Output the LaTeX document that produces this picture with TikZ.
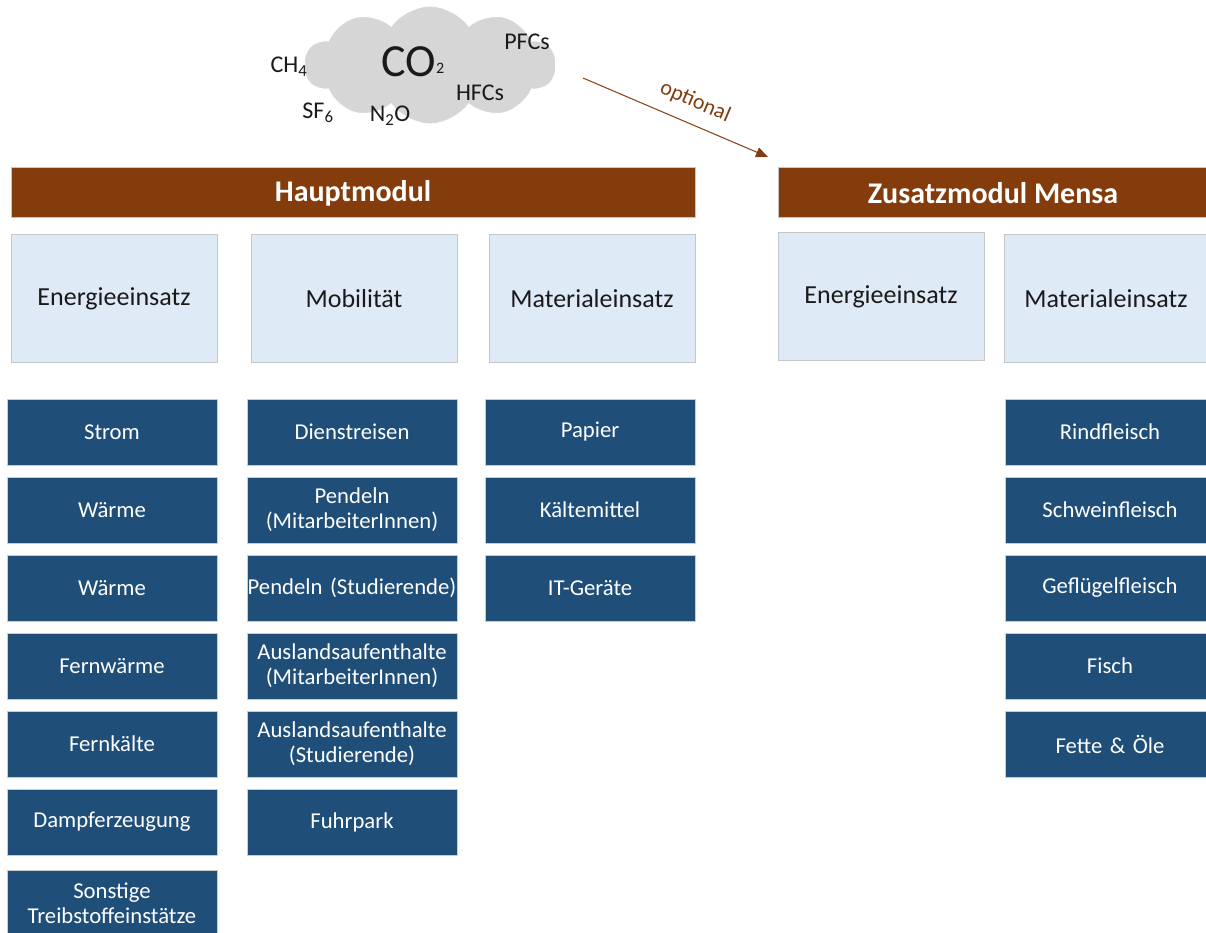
\documentclass[tikz,border=0pt]{standalone}
\usepackage{fontspec}
\setmainfont{Carlito}
\usetikzlibrary{shapes.symbols,arrows.meta}
\definecolor{brownbar}{HTML}{843C0C}
\definecolor{lightbox}{HTML}{DEEBF7}
\definecolor{darkbox}{HTML}{1F4E79}
\definecolor{cloudgray}{HTML}{D6D6D6}
\definecolor{txtdark}{HTML}{1A1A1A}
\tikzset{
  headbar/.style={draw=gray!45, line width=1pt, fill=brownbar, text=white, anchor=north west,
    inner sep=0pt, outer sep=0pt, minimum height=50pt,
    font=\fontsize{30}{34}\selectfont\bfseries},
  catbox/.style={draw=gray!45, line width=1pt, fill=lightbox, text=txtdark, anchor=north west,
    inner sep=0pt, outer sep=0pt, minimum width=206pt, minimum height=127pt,
    font=\fontsize{26}{30}\selectfont},
  itembox/.style={draw=gray!40, line width=1pt, fill=darkbox, text=white, anchor=north west,
    inner sep=0pt, outer sep=0pt, minimum width=210pt, minimum height=66pt,
    text width=210pt, align=center, font=\fontsize{22.7}{25}\selectfont},
  gas/.style={text=txtdark, inner sep=0pt, font=\fontsize{24}{27}\selectfont},
  optarrow/.style={draw=brownbar, line width=1pt, -{Triangle[length=12pt,width=10pt]}},
}
\begin{document}
\begin{tikzpicture}[x=1pt,y=-1pt]
\useasboundingbox (0,0) rectangle (1206,933);
% cloud
\node[cloud, cloud puffs=10, cloud puff arc=110, aspect=2.2, fill=cloudgray, draw=white,
  line width=1pt, minimum width=252pt, minimum height=118pt, inner sep=0pt] (cloud) at (430,65) {};
\node[gas] (co2) at (413,62) {\fontsize{46}{50}\selectfont CO\raisebox{3pt}{\fontsize{16}{16}\selectfont 2}};
\node[gas] (ch4) at (289,67) {CH\textsubscript{4}};
\node[gas] (pfc) at (527,42) {PFCs};
\node[gas] (hfc) at (480,93) {HFCs};
\node[gas] (sf6) at (318,113) {SF\textsubscript{6}};
\node[gas] (n2o) at (390,116) {N\textsubscript{2}O};
% arrow
\coordinate (arrS) at (583,78);
\coordinate (arrE) at (768,157);
\draw[optarrow] (arrS) -- node[sloped, above=12pt, pos=0.56, text=brownbar, inner sep=0pt, font=\fontsize{22}{24}\selectfont] (optlbl) {optional} (arrE);
% header bars
\node[headbar, minimum width=684pt] (haupt) at (11,168) {Hauptmodul};
\node[headbar, minimum width=430pt] (zusatz) at (778,168) {Zusatzmodul Mensa};
% category boxes
\node[catbox] (c1) at (11,235) {Energieeinsatz};
\node[catbox] (c2) at (251,235) {Mobilität};
\node[catbox] (c3) at (489,235) {Materialeinsatz};
\node[catbox] (c4) at (778,233) {Energieeinsatz};
\node[catbox, minimum width=204pt] (c5) at (1004,235) {Materialeinsatz};
% column 1
\node[itembox] (a1) at (7,399) {Strom};
\node[itembox] (a2) at (7,477) {Wärme};
\node[itembox] (a3) at (7,555) {Wärme};
\node[itembox] (a4) at (7,633) {Fernwärme};
\node[itembox] (a5) at (7,711) {Fernkälte};
\node[itembox] (a6) at (7,789) {Dampferzeugung};
\node[itembox] (a7) at (7,870) {Sonstige\\Treibstoffeinstätze};
% column 2
\node[itembox] (b1) at (247,399) {Dienstreisen};
\node[itembox] (b2) at (247,477) {Pendeln\\(MitarbeiterInnen)};
\node[itembox] (b3) at (247,555) {Pendeln (Studierende)};
\node[itembox] (b4) at (247,633) {Auslandsaufenthalte\\(MitarbeiterInnen)};
\node[itembox] (b5) at (247,711) {Auslandsaufenthalte\\(Studierende)};
\node[itembox] (b6) at (247,789) {Fuhrpark};
% column 3
\node[itembox] (m1) at (485,399) {Papier};
\node[itembox] (m2) at (485,477) {Kältemittel};
\node[itembox] (m3) at (485,555) {IT-Geräte};
% column 4
\node[itembox] (f1) at (1005,399) {Rindfleisch};
\node[itembox] (f2) at (1005,477) {Schweinfleisch};
\node[itembox] (f3) at (1005,555) {Geflügelfleisch};
\node[itembox] (f4) at (1005,633) {Fisch};
\node[itembox] (f5) at (1005,711) {Fette \& Öle};
\end{tikzpicture}
\end{document}
